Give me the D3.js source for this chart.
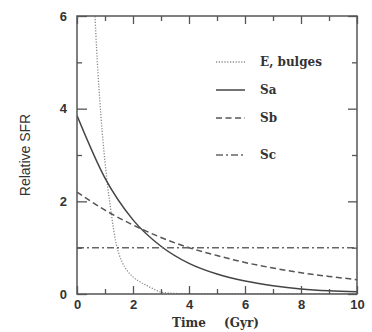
<html>
<head>
<script src="https://d3js.org/d3.v7.min.js"></script>
<style>
  body { margin: 0; background: #fff; }
  .tick text { font-family: "Liberation Sans", Arial, sans-serif; font-weight: bold; font-size: 13px; fill: #333; }
</style>
</head>
<body>
<script>
// values
var eTime = [0.6, 0.7, 0.8, 0.9, 1.0, 1.1, 1.2, 1.3, 1.4, 1.5, 1.6, 1.8, 2.0, 2.2, 2.5, 2.8, 3.0, 3.5, 4, 6, 8, 10];
var eSfr  = [6.6, 5.3, 4.3, 3.5, 2.85, 2.3, 1.85, 1.42, 1.08, 0.86, 0.7, 0.5, 0.37, 0.28, 0.18, 0.09, 0.04, 0.012, 0.005, 0.003, 0.003, 0.003];
var spTime = [0, 1, 2, 3, 4, 5, 6, 7, 8, 9, 10];
var saSfr = [3.85, 2.5, 1.6, 1.03, 0.66, 0.43, 0.28, 0.18, 0.11, 0.07, 0.05];
var sbSfr = [2.2, 1.81, 1.49, 1.22, 1.0, 0.83, 0.68, 0.56, 0.46, 0.38, 0.31];
var scSfr = [1, 1, 1, 1, 1, 1, 1, 1, 1, 1, 1];
var legendNames = ["E, bulges", "Sa", "Sb", "Sc"];
var xTicks = [0, 2, 4, 6, 8, 10];
var yTicks = [0, 2, 4, 6];

var svg = d3.select("body").append("svg").attr("width", 372).attr("height", 332);

var x = d3.scaleLinear().domain([0, 10]).range([77, 357]);
var y = d3.scaleLinear().domain([0, 6]).range([294, 16]);

svg.append("clipPath").attr("id", "clip").append("rect")
  .attr("x", 77).attr("y", 16).attr("width", 280).attr("height", 278);

var styles = [
  {stroke: "#8a8a8a", width: 1.3, dash: "1.2,1.6"},
  {stroke: "#444", width: 1.5, dash: null},
  {stroke: "#555", width: 1.5, dash: "6,3.5"},
  {stroke: "#666", width: 1.5, dash: "7,3,2,3"}
];

var series = [
  d3.zip(eTime, eSfr),
  d3.zip(spTime, saSfr),
  d3.zip(spTime, sbSfr),
  d3.zip(spTime, scSfr)
];

var line = d3.line().x(function(d){ return x(d[0]); }).y(function(d){ return y(d[1]); })
  .curve(d3.curveMonotoneX);

var g = svg.append("g").attr("clip-path", "url(#clip)");
series.forEach(function(s, i){
  g.append("path")
    .attr("d", line(s))
    .style("fill", "none")
    .style("stroke", styles[i].stroke)
    .style("stroke-width", styles[i].width)
    .style("stroke-dasharray", styles[i].dash);
});

// axes, ticks inward on all four sides
function drawAxis(gen, tr) {
  var a = svg.append("g").attr("transform", tr).call(gen);
  a.select(".domain").remove();
  a.selectAll(".tick line").style("stroke", "#555").style("stroke-width", 1.3);
  return a;
}
var xMinor = d3.range(1, 10, 2), yMinor = [1, 3, 5];

drawAxis(d3.axisBottom(x).tickValues(xTicks).tickSize(-8).tickPadding(6).tickFormat(d3.format("d")), "translate(0,294)");
drawAxis(d3.axisBottom(x).tickValues(xMinor).tickSize(-5).tickFormat(""), "translate(0,294)");
drawAxis(d3.axisTop(x).tickValues(xTicks).tickSize(-8).tickFormat(""), "translate(0,16)");
drawAxis(d3.axisTop(x).tickValues(xMinor).tickSize(-5).tickFormat(""), "translate(0,16)");
drawAxis(d3.axisLeft(y).tickValues(yTicks).tickSize(-10).tickPadding(10).tickFormat(d3.format("d")), "translate(77,0)");
drawAxis(d3.axisLeft(y).tickValues(yMinor).tickSize(-5).tickFormat(""), "translate(77,0)");
drawAxis(d3.axisRight(y).tickValues(yTicks).tickSize(-9).tickFormat(""), "translate(357,0)");
drawAxis(d3.axisRight(y).tickValues(yMinor).tickSize(-5).tickFormat(""), "translate(357,0)");

svg.append("rect").attr("x", 77).attr("y", 16).attr("width", 280).attr("height", 278)
  .style("fill", "none").style("stroke", "#555").style("stroke-width", 1.5);

// legend
var legY = [62, 90, 118, 155];
legendNames.forEach(function(name, i){
  svg.append("line")
    .attr("x1", 216).attr("x2", 245).attr("y1", legY[i]).attr("y2", legY[i])
    .style("stroke", styles[i].stroke)
    .style("stroke-width", styles[i].width)
    .style("stroke-dasharray", styles[i].dash);
  svg.append("text")
    .attr("x", 260).attr("y", legY[i] + 4)
    .text(name)
    .style("font-family", "DejaVu Serif, serif")
    .style("font-weight", "bold")
    .style("font-size", "12px")
    .style("fill", "#333");
});

// x title, two pieces to keep the wide gap
[["Time", 172], ["(Gyr)", 224]].forEach(function(p){
  svg.append("text")
    .attr("x", p[1]).attr("y", 327)
    .style("font-family", "DejaVu Serif, serif")
    .style("font-weight", "bold")
    .style("font-size", "12px")
    .style("fill", "#333")
    .text(p[0]);
});

svg.append("text")
  .attr("transform", "translate(30,155) rotate(-90)")
  .attr("text-anchor", "middle")
  .style("font-family", "Liberation Sans, Arial, sans-serif")
  .style("font-size", "14px")
  .style("fill", "#333")
  .text("Relative SFR");
</script>
</body>
</html>
